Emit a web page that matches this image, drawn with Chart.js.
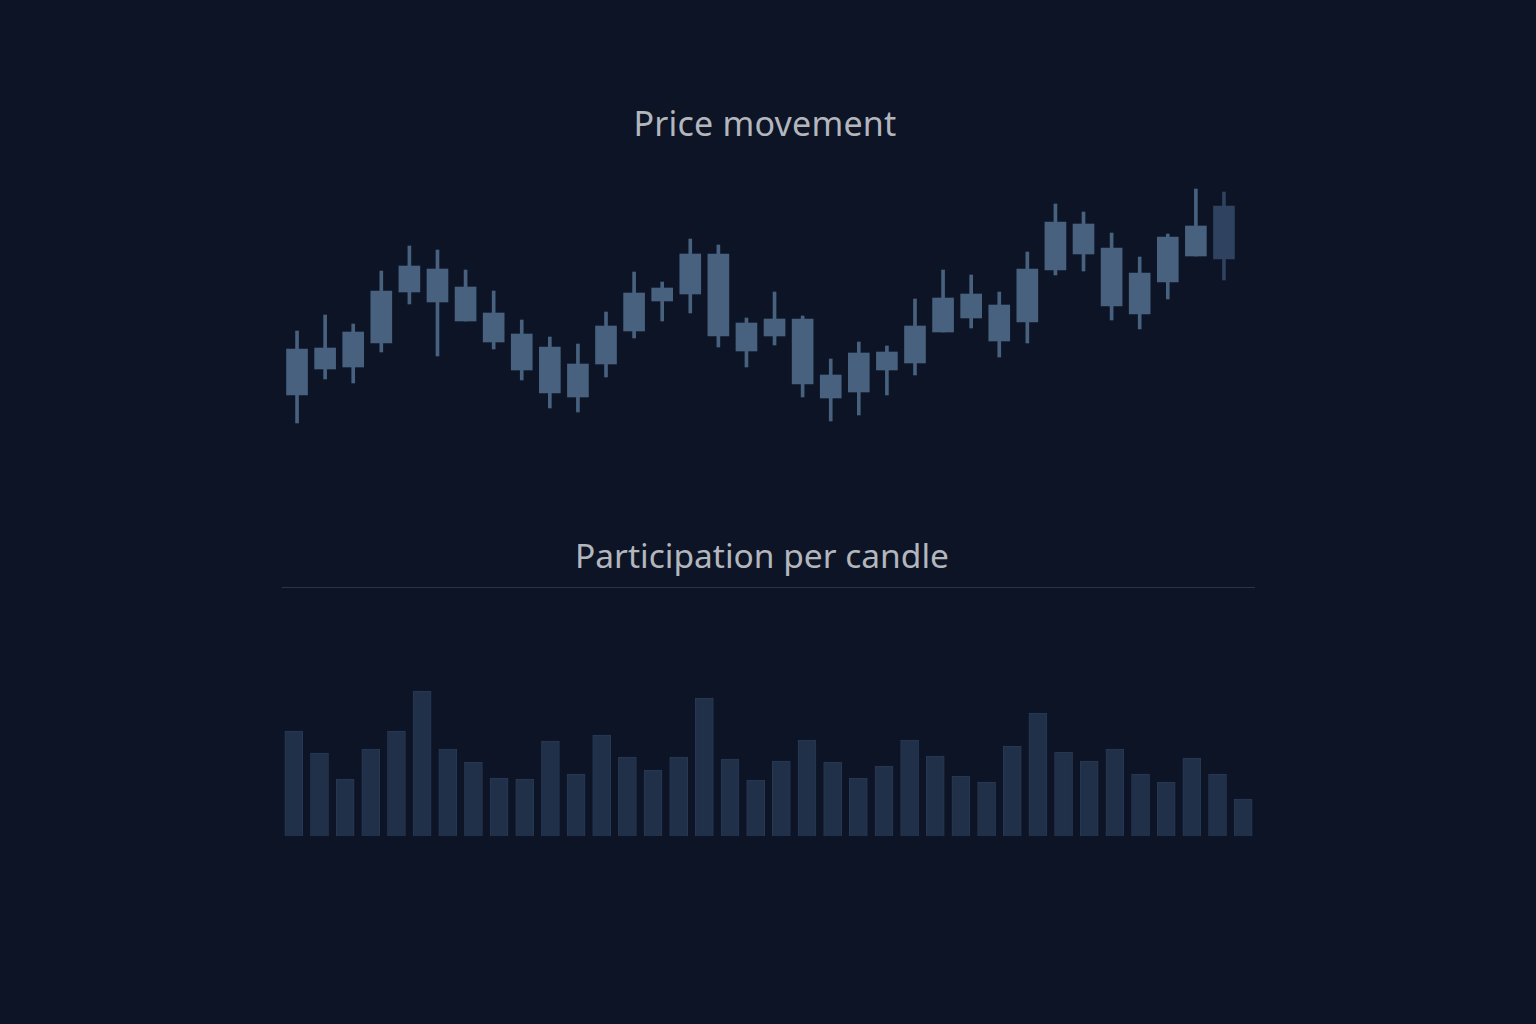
<!DOCTYPE html>
<html>
<head>
<meta charset="utf-8">
<script src="https://cdn.jsdelivr.net/npm/chart.js@4.4.1/dist/chart.umd.min.js"></script>
<style>
  html, body { margin: 0; padding: 0; }
  body {
    width: 1536px; height: 1024px; overflow: hidden; position: relative;
    background: #0c1426;
    font-family: "Noto Sans", "Open Sans", sans-serif;
  }
  .title {
    position: absolute; left: 0; width: 1536px; text-align: center;
    color: #b3b6bd; font-size: 34px; font-weight: 400; letter-spacing: 0.2px;
  }
  #t1 { top: 100px; left: -3px; }
  #t2 { top: 532px; left: -6px; font-size: 33.5px; letter-spacing: 0px; }
  #rule { position: absolute; left: 282px; top: 587px; width: 973px; height: 1px; background: #2a3447; }
  #c1wrap { position: absolute; left: 283px; top: 180px; width: 955px; height: 260px; }
  #c2wrap { position: absolute; left: 281px; top: 676px; width: 975px; height: 160px; }
</style>
</head>
<body>
<div class="title" id="t1">Price movement</div>
<div class="title" id="t2">Participation per candle</div>
<div id="rule"></div>
<div id="c1wrap"><canvas id="candles"></canvas></div>
<div id="c2wrap"><canvas id="volume"></canvas></div>
<script>
// ---- Data ----
const candleLabels = Array.from({length: 34}, (_, i) => 'C' + (i + 1));
const opens  = [151.25,163,158.25,164.25,177,182.75,178.25,171.75,166.5,163.25,159,159,167.25,174.75,176.5,186.5,169.25,166,170.25,156.25,152,157.5,159.25,167,176.5,173.75,169.5,182.5,194,188,181.75,179.5,186,198.5];
const highs  = [167.25,171.25,169,182.25,188.5,187.5,182.5,177.25,170,165.75,164,172,182,179.5,190.25,188.75,170.5,177,171,160.25,164.5,163.5,175.25,182.5,181.25,177,187,199,197,191.75,185.75,191.5,202.75,202];
const lows   = [144.25,155.25,154.25,162,174,161,169.75,162.75,155,148,147,155.75,165.5,169.75,171.75,163.25,158.25,163.75,150.75,144.75,146.25,151.25,156.25,167,168,160.75,164.25,181.25,182.25,170,167.75,175.25,186,180];
const closes = [162.75,157.75,167,177.25,183.5,174.5,169.75,164.5,157.5,151.75,150.75,168.5,176.75,178,186.5,166,162.25,170.25,154,150.5,161.75,162,168.5,175.5,170.5,164.75,182.75,194.5,186.5,173.5,171.5,190.75,193.5,185.25];

const volumeLabels = Array.from({length: 38}, (_, i) => 'V' + (i + 1));
const volumes = [105,83,57,87,105,145,87,74,58,57,95,62,101,79,66,79,138,77,56,75,96,74,58,70,96,80,60,54,90,123,84,75,87,62,54,78,62,37];

// ---- Styles ----
const candleColor = '#47617f';
const lastCandleColor = '#2f4260';
const candleColors = candleLabels.map((_, i) => i === candleLabels.length - 1 ? lastCandleColor : candleColor);

const wickData = highs.map((h, i) => [lows[i], h]);
const bodyData = opens.map((o, i) => [o, closes[i]]);

const hiddenScales = (ymin, ymax) => ({
  x: { display: false, offset: true, grid: { display: false } },
  y: { display: false, min: ymin, max: ymax, grid: { display: false } }
});

new Chart(document.getElementById('candles'), {
  type: 'bar',
  data: {
    labels: candleLabels,
    datasets: [
      { label: 'wick', data: wickData, backgroundColor: candleColors, barThickness: 3, grouped: false, order: 2 },
      { label: 'body', data: bodyData, backgroundColor: candleColors, borderColor: candleColors, borderWidth: 0, barThickness: 21, grouped: false, order: 1 }
    ]
  },
  options: {
    responsive: true, maintainAspectRatio: false, animation: false,
    layout: { padding: 0 },
    plugins: { legend: { display: false }, tooltip: { enabled: false }, title: { display: false } },
    scales: hiddenScales(140, 205)
  }
});

new Chart(document.getElementById('volume'), {
  type: 'bar',
  data: {
    labels: volumeLabels,
    datasets: [
      { label: 'volume', data: volumes, backgroundColor: '#213049', borderColor: '#283954', borderWidth: 1, barThickness: 18 }
    ]
  },
  options: {
    responsive: true, maintainAspectRatio: false, animation: false,
    layout: { padding: 0 },
    plugins: { legend: { display: false }, tooltip: { enabled: false }, title: { display: false } },
    scales: hiddenScales(0, 160)
  }
});
</script>
</body>
</html>
